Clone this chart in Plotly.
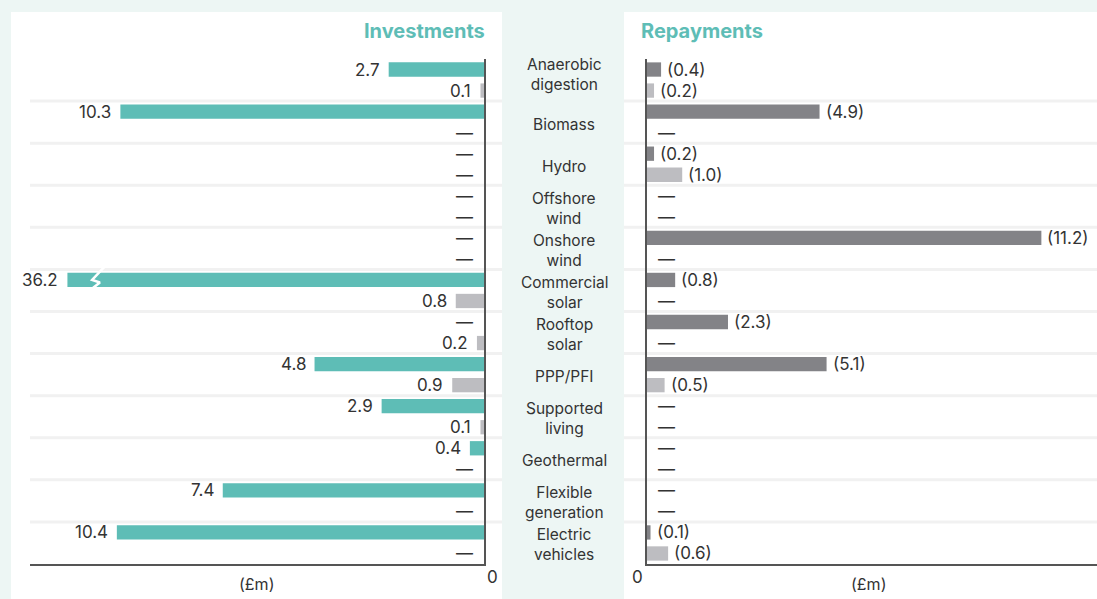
import plotly.graph_objects as go

# ---------------- data ----------------
categories = ["Anaerobic<br>digestion", "Biomass", "Hydro", "Offshore<br>wind",
              "Onshore<br>wind", "Commercial<br>solar", "Rooftop<br>solar", "PPP/PFI",
              "Supported<br>living", "Geothermal", "Flexible<br>generation",
              "Electric<br>vehicles"]
invest_a = [2.7, 10.3, None, None, None, 36.2, None, 4.8, 2.9, 0.4, 7.4, 10.4]
invest_b = [0.1, None, None, None, None, 0.8, 0.2, 0.9, 0.1, None, None, None]
repay_a = [0.4, 4.9, 0.2, None, 11.2, 0.8, 2.3, 5.1, None, None, None, 0.1]
repay_b = [0.2, None, 1.0, None, None, None, None, 0.5, None, None, None, 0.6]
titles = ["Investments", "Repayments"]
unit_label = "(£m)"

# ---------------- style ----------------
W, H = 1097, 599
FONT = "Inter"
TEXT = "#333333"
TEAL = "#5ebdb6"
DARK_GREY = "#838387"
LIGHT_GREY = "#bdbdc1"
MINT = "#edf6f4"
SEP = "#f1f1f1"
AXIS = "#555555"
LEFT_MAX = 12.86     # axis extent, left panel
RIGHT_MAX = 12.78    # axis extent, right panel
BREAK_CAP = 11.8     # displayed length of broken bar

def px(x):
    return x / W

def py(y):
    return 1 - y / H

idx = list(range(len(categories)))
y_dom = [py(564), py(59)]

def clean(v):
    return 0 if v is None else v

fig = go.Figure()

# left panel bars (x reversed)
fig.add_trace(go.Bar(y=idx, x=[min(clean(v), BREAK_CAP) for v in invest_a], orientation="h",
                     marker=dict(color=TEAL, line_width=0), xaxis="x", yaxis="y",
                     hoverinfo="skip"))
fig.add_trace(go.Bar(y=idx, x=[clean(v) for v in invest_b], orientation="h",
                     marker=dict(color=LIGHT_GREY, line_width=0), xaxis="x", yaxis="y",
                     hoverinfo="skip"))
# right panel bars
fig.add_trace(go.Bar(y=idx, x=[clean(v) for v in repay_a], orientation="h",
                     marker=dict(color=DARK_GREY, line_width=0), xaxis="x2", yaxis="y2",
                     hoverinfo="skip"))
fig.add_trace(go.Bar(y=idx, x=[clean(v) for v in repay_b], orientation="h",
                     marker=dict(color=LIGHT_GREY, line_width=0), xaxis="x2", yaxis="y2",
                     hoverinfo="skip"))

# break mark on capped bars
for i, v in enumerate(invest_a):
    if v is not None and v > BREAK_CAP:
        yc = i - 0.25
        fig.add_trace(go.Scatter(
            x=[BREAK_CAP - 1.08, BREAK_CAP - 0.70, BREAK_CAP - 0.92, BREAK_CAP - 0.56],
            y=[yc - 0.34, yc + 0.00, yc + 0.06, yc + 0.30],
            mode="lines", line=dict(color="white", width=2.5),
            xaxis="x", yaxis="y", hoverinfo="skip", showlegend=False))

annotations = []

def add_label(val, y, side, xref, yref):
    if val is None:
        txt = "—"
        x = 0
        shift = 9
    else:
        txt = f"{val:.1f}" if side == "left" else f"({val:.1f})"
        x = min(val, BREAK_CAP) if side == "left" else val
        shift = 7 if side == "left" else 4
    annotations.append(dict(
        x=x, y=y, xref=xref, yref=yref, text=txt, showarrow=False,
        xanchor="right" if side == "left" else "left",
        xshift=-shift if side == "left" else shift,
        yanchor="middle", font=dict(family=FONT, size=17, color=TEXT)))

for i in idx:
    add_label(invest_a[i], i - 0.25, "left", "x", "y")
    add_label(invest_b[i], i + 0.25, "left", "x", "y")
    add_label(repay_a[i], i - 0.25, "right", "x2", "y2")
    add_label(repay_b[i], i + 0.25, "right", "x2", "y2")
    annotations.append(dict(
        x=px(564), y=i, xref="paper", yref="y", text=categories[i], showarrow=False,
        xanchor="center", yanchor="middle", align="center",
        yshift=6 if i == 0 else -2,
        font=dict(family=FONT, size=15.5, color=TEXT)))

# titles
annotations.append(dict(x=px(487), y=py(31), xref="paper", yref="paper", text=f"<b>{titles[0]}</b>",
                        showarrow=False, xanchor="right", yanchor="middle",
                        font=dict(family=FONT, size=20, color=TEAL)))
annotations.append(dict(x=px(639), y=py(31), xref="paper", yref="paper", text=f"<b>{titles[1]}</b>",
                        showarrow=False, xanchor="left", yanchor="middle",
                        font=dict(family=FONT, size=20, color=TEAL)))
# zero labels and units
annotations.append(dict(x=0, y=py(577), xref="x", yref="paper", text="0", showarrow=False,
                        xanchor="center", yanchor="middle", xshift=8,
                        font=dict(family=FONT, size=17, color=TEXT)))
annotations.append(dict(x=0, y=py(577), xref="x2", yref="paper", text="0", showarrow=False,
                        xanchor="center", yanchor="middle", xshift=-10,
                        font=dict(family=FONT, size=17, color=TEXT)))
annotations.append(dict(x=px(256), y=py(584), xref="paper", yref="paper", text=unit_label,
                        showarrow=False, xanchor="center", yanchor="middle",
                        font=dict(family=FONT, size=16, color=TEXT)))
annotations.append(dict(x=px(868), y=py(584), xref="paper", yref="paper", text=unit_label,
                        showarrow=False, xanchor="center", yanchor="middle",
                        font=dict(family=FONT, size=16, color=TEXT)))

shapes = [
    dict(type="rect", xref="paper", yref="paper", x0=px(11), x1=px(502), y0=0, y1=py(12),
         fillcolor="white", line_width=0, layer="below"),
    dict(type="rect", xref="paper", yref="paper", x0=px(624), x1=1, y0=0, y1=py(12),
         fillcolor="white", line_width=0, layer="below"),
]
for i in idx[:-1]:
    shapes.append(dict(type="line", xref="paper", yref="y", x0=px(30), x1=px(502),
                       y0=i + 0.5, y1=i + 0.5, line=dict(color=SEP, width=3), layer="below"))
    shapes.append(dict(type="line", xref="paper", yref="y", x0=px(624), x1=1,
                       y0=i + 0.5, y1=i + 0.5, line=dict(color=SEP, width=3), layer="below"))

fig.update_layout(
    width=W, height=H, autosize=False,
    margin=dict(l=0, r=0, t=0, b=0),
    paper_bgcolor=MINT, plot_bgcolor="rgba(0,0,0,0)",
    showlegend=False, barmode="group", bargap=0, bargroupgap=0.32,
    xaxis=dict(domain=[px(30), px(484)], range=[LEFT_MAX, 0], showgrid=False,
               zeroline=False, showticklabels=False, ticks="", showline=True,
               linecolor=AXIS, linewidth=1.5, anchor="y", fixedrange=True),
    yaxis=dict(domain=y_dom, range=[len(idx) - 0.5, -0.5], showgrid=False, zeroline=False,
               showticklabels=False, ticks="", showline=True, side="right",
               linecolor=AXIS, linewidth=1.5, anchor="x", fixedrange=True),
    xaxis2=dict(domain=[px(647), 1], range=[0, RIGHT_MAX], showgrid=False,
                zeroline=False, showticklabels=False, ticks="", showline=True,
                linecolor=AXIS, linewidth=1.5, anchor="y2", fixedrange=True),
    yaxis2=dict(domain=y_dom, range=[len(idx) - 0.5, -0.5], showgrid=False, zeroline=False,
                showticklabels=False, ticks="", showline=True, side="left",
                linecolor=AXIS, linewidth=1.5, anchor="x2", fixedrange=True),
    annotations=annotations, shapes=shapes,
)

fig.write_html("out.html", config={"displayModeBar": False},
               post_script="document.body.style.margin='0';document.body.style.overflow='hidden';")
